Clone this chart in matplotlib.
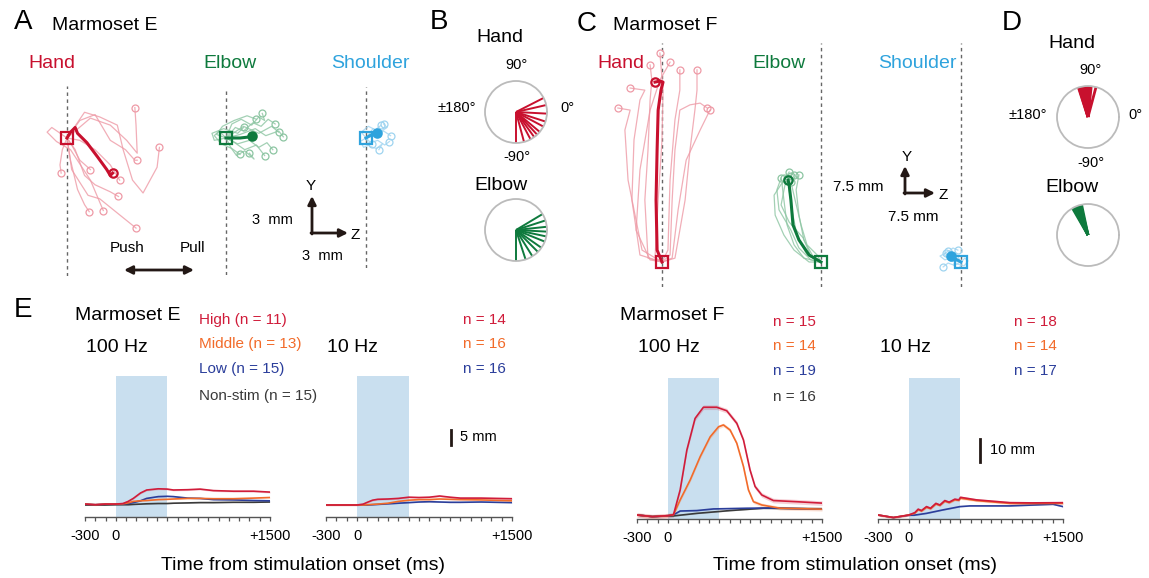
import numpy as np
import matplotlib
matplotlib.use('Agg')
import matplotlib.pyplot as plt

plt.rcParams['font.family'] = ['Liberation Sans', 'DejaVu Sans']

W, H = 1149, 578

# colours
HAND_D, HAND_L = '#C8102E', '#EE9AA6'
ELBOW_D, ELBOW_L = '#0E7A3D', '#8CC5A2'
SHOUL_D, SHOUL_L = '#2FA3DD', '#9FD4F0'
C_HIGH, C_MID, C_LOW, C_NON = '#D01C3A', '#F26B2A', '#2B3E9B', '#3A3A3A'
SPAN = '#C9DFEF'
INK = '#231815'

# ---------------- trajectories (mm, start = 0,0) ----------------
# Marmoset E
handE_mean_z = [0, 0.3, 0.7, 0.9, 1.7, 2.6, 3.4, 3.7, 3.9]
handE_mean_y = [0, 0.5, 0.9, 0.4, -0.4, -1.6, -2.7, -3.2, -3.0]
handE_z = [[0, 1.1, 2.4, 3.7, 5.0, 5.8, 6.0],
           [0, 1.5, 2.8, 4.3, 4.8, 5.6, 6.5, 7.7, 7.9],
           [0, 2.0, 3.7, 5.1, 6.0, 5.9, 5.8],
           [0, -0.4, -0.6, -0.5],
           [0, 0.4, 1.1, 2.0],
           [0, 1.1, 2.4, 3.7, 4.5],
           [0, 0.7, 1.5, 2.4, 3.7, 4.4],
           [0, 0.3, 0.9, 1.5, 1.9],
           [0, 0.4, 1.8, 2.8, 5.9],
           [0, -1.3, -1.7, -0.9, 0.3, 2.0, 3.1]]
handE_y = [[0, 1.5, 2.0, -0.2, -1.0, -1.9, -1.9],
           [0, 2.2, 1.8, 1.1, -1.0, -3.6, -4.7, -2.5, -0.8],
           [0, 1.7, 1.1, -0.2, -1.3, 1.1, 2.6],
           [0, -1.0, -2.3, -3.0],
           [0, -0.6, -1.9, -2.7],
           [0, -0.2, -1.0, -2.3, -3.6],
           [0, -1.0, -3.2, -4.0, -4.6, -5.0],
           [0, -1.9, -4.4, -5.7, -6.3],
           [0, -2.7, -4.9, -5.2, -7.7],
           [0, 0.9, 0.5, -0.3, -1.0, -3.6, -6.2]]

elbowE_mean_z = [0, 1.2, 2.1, 2.2]
elbowE_mean_y = [0, 0, 0.1, 0.2]
elbowE_z = [[0, 0.8, 1.5, 2.3, 3.0, 3.6, 4.2],
            [0, -0.6, -1.0, -0.4, 0.5, 1.2],
            [0, 1.0, 2.0, 2.8, 3.5, 4.0],
            [0, 0.5, 1.3, 2.2, 2.8, 3.3, 3.1],
            [0, 0.4, 0.9, 1.6, 2.4, 2.0],
            [0, 1.2, 2.5, 3.4, 4.5, 4.9],
            [0, -0.8, -0.3, 0.7, 1.8, 2.6],
            [0, 0.6, 1.6, 2.6, 3.3],
            [0, 1.5, 2.8, 3.9, 4.5],
            [0, -1.0, -1.2, -0.2, 1.0, 1.5]]
elbowE_y = [[0, 0.9, 0.6, 1.3, 1.0, 1.6, 1.2],
            [0, 0.6, 0.2, -0.5, -0.9, -1.4],
            [0, -0.5, -0.2, -0.8, -0.4, -1.0],
            [0, 1.2, 1.6, 1.1, 1.8, 1.5, 2.1],
            [0, -0.8, -1.5, -1.1, -1.8, -1.3],
            [0, 0.3, 0.8, 0.2, 0.6, 0.1],
            [0, 0.3, 1.0, 1.5, 1.9, 1.6],
            [0, -0.3, -1.0, -0.6, -1.5],
            [0, 1.0, 0.4, 1.0, 0.5],
            [0, -0.2, 0.4, 0.8, 0.4, 0.9]]

shoulE_mean_z = [0, 0.5, 0.9]
shoulE_mean_y = [0, 0.3, 0.4]
shoulE_z = [[0, 0.6, 1.2, 1.8, 1.5],
            [0, 0.4, 1.0, 1.6, 2.0],
            [0, -0.4, 0.2, 0.8, 1.3],
            [0, 0.3, 0.9, 1.4, 1.1],
            [0, 0.8, 1.5, 2.1],
            [0, -0.5, -0.2, 0.5]]
shoulE_y = [[0, 0.8, 0.5, 0.9, 1.2],
            [0, -0.4, -0.2, -0.6, -0.3],
            [0, 0.5, 1.0, 0.7, 1.1],
            [0, -0.7, -0.9, -0.5, -1.0],
            [0, 0.2, 0.6, 0.2],
            [0, -0.3, -0.8, -0.5]]

# Marmoset F
handF_mean_z = [0, -1.4, -1.7, -1.4, -1.1, -0.3, 0.3, -0.6, -2.0]
handF_mean_y = [0, 3.4, 17.7, 32.0, 43.4, 49.1, 51.4, 51.7, 51.4]
handF_z = [[0, -6.3, -8.6, -8.0, -6.3, -4.9, -9.1],
           [0, -4.0, -4.9, -4.0, -3.4, -2.9, -3.4],
           [0, -2.0, -1.1, 0, 0.3, -0.6],
           [0, -5.7, -9.7, -10.6, -9.1, -12.6],
           [0, 2.3, 2.9, 3.7, 5.1, 8.0, 10.9, 12.9],
           [0, 1.7, 2.3, 3.7, 5.1, 5.1],
           [0, 3.7, 6.6, 8.0, 9.4, 10.0, 10.0],
           [0, -3.4, -7.4, -6.3, -3.4, -0.6, 2.3],
           [0, 2.9, 4.6, 6.9, 10.9, 13.7]]
handF_y = [[0, 2.0, 17.7, 34.9, 46.3, 49.1, 49.7],
           [0, 1.1, 17.7, 32.0, 46.3, 52.0, 56.3],
           [0, 1.1, 17.7, 34.9, 49.1, 59.7],
           [0, 3.4, 23.4, 37.7, 43.4, 44.0],
           [0, 2.0, 17.7, 32.0, 43.4, 44.9, 45.4, 44.0],
           [0, 3.4, 23.4, 40.6, 49.1, 54.9],
           [0, 1.1, 17.7, 32.0, 43.4, 49.1, 54.9],
           [0, 0.6, 9.1, 26.3, 43.4, 52.0, 57.1],
           [0, 1.1, 14.9, 29.1, 37.7, 43.4]]

elbowF_mean_z = [0, -3.4, -6.3, -8.0, -8.6, -9.1, -9.4]
elbowF_mean_y = [0, 2.0, 6.3, 10.6, 17.7, 22.0, 23.4]
elbowF_z = [[0, -4.9, -7.7, -9.7, -10.6, -11.1, -10.6],
            [0, -4.0, -6.9, -8.3, -9.1, -7.7],
            [0, -2.9, -6.3, -8.6, -12.0, -12.6, -11.4],
            [0, -2.0, -4.9, -6.3, -7.1, -6.3],
            [0, -3.4, -7.7, -10.6, -13.1, -13.4, -9.1],
            [0, -1.1, -4.0, -5.7, -7.4, -8.6],
            [0, -2.9, -5.1, -9.1, -11.4, -10.3, -8.6]]
elbowF_y = [[0, 1.1, 4.9, 10.6, 17.7, 22.0, 24.0],
            [0, 2.0, 7.7, 14.9, 20.6, 24.9],
            [0, 0.6, 4.0, 9.1, 14.9, 20.6, 24.0],
            [0, 1.1, 6.3, 13.4, 20.6, 24.9],
            [0, 0, 3.4, 7.7, 13.4, 19.1, 25.7],
            [0, 2.0, 4.9, 10.6, 17.7, 22.9],
            [0, 1.7, 6.9, 11.4, 16.3, 22.0, 24.6]]

shoulF_mean_z = [0, -2.0, -2.9]
shoulF_mean_y = [0, 1.1, 1.7]
shoulF_z = [[0, -2.6, -4.6, -6.0, -4.3],
            [0, -1.4, -3.4, -2.3, -0.9],
            [0, -2.0, -3.7, -5.1],
            [0, 1.1, 2.0, 0.9, -1.1],
            [0, -3.1, -4.9, -3.7]]
shoulF_y = [[0, 1.4, 0.6, 1.7, 2.6],
            [0, 2.3, 3.1, 4.0, 3.4],
            [0, -0.9, -0.3, -1.4],
            [0, 1.1, 0.3, -1.1, -0.6],
            [0, 0.3, 2.3, 3.1]]

# ---------------- movement directions (deg) ----------------
dirE_hand = [27, 13, -3, -18, -28, -40, -47, -54, -62, -75, -90]
dirE_elbow = [31, 18, 6, -3, -12, -22, -35, -45, -58, -72, -90]
dirF_hand = [75, 84, 86, 88, 89, 91, 93, 95, 97, 99, 101, 103, 105, 107, 108]
dirF_elbow = [102, 104, 106, 108, 110, 112, 114, 116, 118, 120]

# ---------------- displacement time courses (mm) ----------------
tE100 = [-300, -200, -100, 0, 70, 120, 170, 240, 300, 413, 500, 560, 700, 820, 950, 1144, 1339, 1500]
E100_high = [0.1, -0.1, 0.1, 0.1, 0.3, 1.0, 2.0, 3.8, 4.8, 5.2, 5.1, 4.8, 4.9, 5.1, 4.6, 4.4, 4.4, 4.1]
E100_mid = [0.1, -0.1, 0.1, 0.1, 0.2, 0.5, 1.0, 1.2, 1.3, 1.6, 1.7, 1.8, 2.0, 2.0, 1.9, 1.9, 2.1, 2.3]
E100_low = [0.1, -0.1, 0.1, 0.1, 0.1, 0.3, 0.6, 1.2, 2.0, 2.6, 2.7, 2.6, 2.1, 2.0, 1.6, 1.5, 1.3, 1.2]
E100_non = [-0.2, -0.2, -0.2, -0.1, -0.1, -0.1, 0.0, 0.1, 0.2, 0.3, 0.3, 0.4, 0.5, 0.6, 0.6, 0.7, 0.7, 0.8]

tE10 = [-300, -100, 0, 60, 100, 150, 200, 300, 400, 500, 600, 700, 800, 900, 1000, 1200, 1500]
E10_high = [0.0, 0.0, 0.0, 0.3, 0.9, 1.6, 1.9, 2.0, 2.2, 2.6, 2.5, 2.6, 3.0, 2.6, 2.3, 2.3, 2.1]
E10_mid = [0.0, 0.0, 0.0, 0.0, 0.1, 0.2, 0.3, 0.6, 1.2, 1.6, 1.8, 1.8, 2.0, 1.9, 1.8, 1.7, 1.4]
E10_low = [0.0, 0.0, 0.0, 0.0, 0.0, 0.1, 0.2, 0.4, 0.6, 0.8, 1.0, 1.1, 1.0, 0.9, 0.9, 1.0, 0.8]

tF100_high = [-300, -150, 0, 55, 120, 185, 265, 346, 476, 573, 671, 736, 800, 849, 914, 1027, 1254, 1500]
F100_high = [0.4, -0.3, 0.1, 0.5, 11.2, 28.3, 41.9, 46.7, 46.7, 45.2, 39.8, 32.6, 19.7, 12.6, 9.0, 6.6, 6.1, 5.5]
tF100_mid = [-300, -150, 0, 55, 120, 218, 315, 412, 493, 541, 606, 671, 736, 784, 833, 914, 1092, 1500]
F100_mid = [0.4, -0.3, 0.1, 0.5, 6.9, 15.5, 25.5, 34.0, 38.3, 39.1, 36.9, 31.2, 21.2, 11.2, 6.1, 4.7, 3.3, 2.9]
tF100_low = [-300, -150, 0, 55, 120, 282, 444, 768, 1000, 1500]
F100_low = [0.4, -0.3, 0.1, 0.5, 2.1, 2.3, 3.0, 3.3, 3.4, 2.9]
tF100_non = [-300, -150, 0, 55, 282, 606, 930, 1200, 1500]
F100_non = [0.4, -0.3, 0.0, 0.0, 1.1, 2.3, 3.3, 3.2, 3.1]

tF10 = [-300, -150, 0, 58, 91, 123, 172, 211, 263, 302, 350, 392, 447, 486, 503, 658, 982, 1200, 1500]
F10_high = [0.4, -0.7, 0.4, 1.4, 2.9, 2.3, 4.0, 3.3, 5.4, 4.7, 6.6, 5.9, 7.2, 6.9, 8.0, 6.9, 5.7, 5.6, 5.7]
F10_mid = [0.4, -0.7, 0.4, 1.2, 2.7, 2.1, 3.7, 3.1, 5.1, 4.5, 6.3, 5.7, 6.9, 6.7, 7.6, 6.6, 5.4, 5.3, 5.4]
tF10_low = [-300, -150, 0, 50, 172, 334, 497, 594, 982, 1403, 1500]
F10_low = [0.4, -0.7, 0.3, 0.3, 1.1, 2.6, 4.0, 4.3, 4.3, 5.0, 4.0]

sem_E = [0.3, 0.15, 0.15, 0.1]
sem_F = [1.0, 0.8, 0.3, 0.2]

nE100 = ['High (n = 11)', 'Middle (n = 13)', 'Low (n = 15)', 'Non-stim (n = 15)']
nE10 = ['n = 14', 'n = 16', 'n = 16']
nF100 = ['n = 15', 'n = 14', 'n = 19', 'n = 16']
nF10 = ['n = 18', 'n = 14', 'n = 17']

fig = plt.figure(figsize=(W / 100, H / 100), dpi=100)


def rect(x0, y0, x1, y1):
    return [x0 / W, 1 - y1 / H, (x1 - x0) / W, (y1 - y0) / H]


def ftext(x, y, s, size=14, ha='left', color='black', **kw):
    fig.text(x / W, 1 - y / H, s, fontsize=size, ha=ha, va='center', color=color, **kw)


def P(x, y):
    return (x, H - y)


def traj(box, origin, scale, zs, ys, mz, my, light, dark, filled=False):
    x0, y0, x1, y1 = box
    ox, oy = origin
    ax = fig.add_axes(rect(x0, y0, x1, y1))
    ax.set_xlim((x0 - ox) / scale, (x1 - ox) / scale)
    ax.set_ylim((oy - y1) / scale, (oy - y0) / scale)
    ax.axis('off')
    ax.axvline(0, color='#666666', lw=1, ls=(0, (2.5, 2.5)))
    for z, y in zip(zs, ys):
        ax.plot(z, y, color=light, lw=0.9, alpha=0.8)
        ax.plot(z[-1], y[-1], 'o', mfc='none', mec=light, ms=5, mew=0.9)
    ax.plot(mz, my, color=dark, lw=2.2)
    ax.plot(mz[-1], my[-1], 'o', mfc=dark if filled else 'none', mec=dark, ms=6, mew=1.6)
    ax.plot(0, 0, 's', mfc='none', mec=dark, ms=8, mew=1.6)


def dirs(center, angles, color, lw):
    cx, cy = center
    ax = fig.add_axes(rect(cx - 31, cy - 31, cx + 31, cy + 31), projection='polar')
    ax.set_ylim(0, 1)
    ax.set_xticks([])
    ax.set_yticks([])
    ax.grid(False)
    ax.spines['polar'].set_color('#BBBBBB')
    ax.spines['polar'].set_linewidth(1.3)
    for a in angles:
        ax.plot([np.deg2rad(a)] * 2, [0, 1], color=color, lw=lw, solid_capstyle='butt')


def course(box, ylim, series, sems):
    ax = fig.add_axes(rect(*box))
    ax.axvspan(0, 500, color=SPAN, lw=0, zorder=0)
    for (t, v, c), s in zip(series, sems):
        v = np.array(v)
        ax.fill_between(t, v - s, v + s, color=c, alpha=0.2, lw=0)
        ax.plot(t, v, color=c, lw=1.2)
    ax.set_xlim(-300, 1500)
    ax.set_ylim(*ylim)
    for sp in ['top', 'right', 'left']:
        ax.spines[sp].set_visible(False)
    ax.spines['bottom'].set_color('#555555')
    ax.spines['bottom'].set_linewidth(1)
    ax.set_yticks([])
    ax.set_xticks([-300, 0, 1500])
    ax.set_xticklabels(['-300', '0', '+1500'])
    ax.set_xticks(np.arange(-300, 1501, 100), minor=True)
    ax.tick_params(axis='x', which='both', direction='out', length=3, width=0.9,
                   color='#555555', labelsize=10.5, pad=6)
    ax.patch.set_alpha(0)
    return ax


# ---------------- panel A ----------------
ftext(14, 22, 'A', size=20)
ftext(52, 25, 'Marmoset E', size=14)
ftext(28, 63, 'Hand', color=HAND_D)
ftext(203, 63, 'Elbow', color=ELBOW_D)
ftext(331, 63, 'Shoulder', color=SHOUL_D)
traj((20, 86, 175, 276), (67, 138), 11.7, handE_z, handE_y, handE_mean_z, handE_mean_y, HAND_L, HAND_D)
traj((185, 89, 300, 275), (226, 138), 11.7, elbowE_z, elbowE_y, elbowE_mean_z, elbowE_mean_y, ELBOW_L, ELBOW_D, True)
traj((340, 87, 410, 268), (366, 138), 11.7, shoulE_z, shoulE_y, shoulE_mean_z, shoulE_mean_y, SHOUL_L, SHOUL_D, True)
ftext(110, 248, 'Push', size=11)
ftext(180, 248, 'Pull', size=11)
fig.axes[0].annotate('', xy=P(124, 270), xytext=P(194, 270), xycoords='figure pixels', textcoords='figure pixels',
                     arrowprops=dict(arrowstyle='<|-|>', color=INK, lw=2, mutation_scale=12, shrinkA=0, shrinkB=0))
fig.axes[0].annotate('', xy=P(312, 196), xytext=P(312, 234), xycoords='figure pixels', textcoords='figure pixels',
                     arrowprops=dict(arrowstyle='-|>', color=INK, lw=2, mutation_scale=12, shrinkA=0, shrinkB=0))
fig.axes[0].annotate('', xy=P(348, 233), xytext=P(311, 233), xycoords='figure pixels', textcoords='figure pixels',
                     arrowprops=dict(arrowstyle='-|>', color=INK, lw=2, mutation_scale=12, shrinkA=0, shrinkB=0))
ftext(311, 186, 'Y', size=11, ha='center')
ftext(355, 235, 'Z', size=11, ha='center')
ftext(272, 220, '3  mm', size=10.5, ha='center')
ftext(322, 256, '3  mm', size=10.5, ha='center')

# ---------------- panel B ----------------
ftext(430, 22, 'B', size=20)
ftext(500, 38, 'Hand', ha='center')
ftext(517, 65, '90°', size=10.5, ha='center')
ftext(457, 108, '±180°', size=10.5, ha='center')
ftext(567, 108, '0°', size=10.5, ha='center')
ftext(517, 157, '-90°', size=10.5, ha='center')
ftext(501, 185, 'Elbow', ha='center')
dirs((516, 112), dirE_hand, HAND_D, 1.4)
dirs((516, 230), dirE_elbow, ELBOW_D, 1.4)

# ---------------- panel C ----------------
ftext(577, 24, 'C', size=20)
ftext(613, 25, 'Marmoset F', size=14)
ftext(597, 63, 'Hand', color=HAND_D)
ftext(752, 63, 'Elbow', color=ELBOW_D)
ftext(878, 63, 'Shoulder', color=SHOUL_D)
traj((600, 43, 725, 287), (662, 262), 3.5, handF_z, handF_y, handF_mean_z, handF_mean_y, HAND_L, HAND_D)
traj((760, 43, 840, 287), (821, 262), 3.5, elbowF_z, elbowF_y, elbowF_mean_z, elbowF_mean_y, ELBOW_L, ELBOW_D)
traj((930, 43, 980, 287), (961, 262), 3.5, shoulF_z, shoulF_y, shoulF_mean_z, shoulF_mean_y, SHOUL_L, SHOUL_D, True)
fig.axes[0].annotate('', xy=P(905, 166), xytext=P(905, 194), xycoords='figure pixels', textcoords='figure pixels',
                     arrowprops=dict(arrowstyle='-|>', color=INK, lw=2, mutation_scale=12, shrinkA=0, shrinkB=0))
fig.axes[0].annotate('', xy=P(935, 193), xytext=P(904, 193), xycoords='figure pixels', textcoords='figure pixels',
                     arrowprops=dict(arrowstyle='-|>', color=INK, lw=2, mutation_scale=12, shrinkA=0, shrinkB=0))
ftext(907, 157, 'Y', size=11, ha='center')
ftext(943, 195, 'Z', size=11, ha='center')
ftext(858, 187, '7.5 mm', size=11, ha='center')
ftext(913, 217, '7.5 mm', size=11, ha='center')

# ---------------- panel D ----------------
ftext(1002, 23, 'D', size=20)
ftext(1072, 43, 'Hand', ha='center')
ftext(1090, 70, '90°', size=10.5, ha='center')
ftext(1028, 115, '±180°', size=10.5, ha='center')
ftext(1135, 115, '0°', size=10.5, ha='center')
ftext(1091, 163, '-90°', size=10.5, ha='center')
ftext(1072, 188, 'Elbow', ha='center')
dirs((1088, 117), dirF_hand, HAND_D, 2.0)
dirs((1088, 235), dirF_elbow, ELBOW_D, 2.0)

# ---------------- panel E ----------------
ftext(14, 310, 'E', size=20)
ftext(75, 315, 'Marmoset E', size=14)
ftext(86, 347, '100 Hz', size=14)
ftext(327, 347, '10 Hz', size=14)
for lab, y, c in zip(nE100, [320, 344, 369, 396], [C_HIGH, C_MID, C_LOW, C_NON]):
    ftext(199, y, lab, size=11, color=c)
for lab, y, c in zip(nE10, [320, 344, 369], [C_HIGH, C_MID, C_LOW]):
    ftext(506, y, lab, size=11, color=c, ha='right')

course((85, 376, 270, 516.7), (-4.1, 42.8),
       [(tE100, E100_non, C_NON), (tE100, E100_low, C_LOW), (tE100, E100_mid, C_MID), (tE100, E100_high, C_HIGH)],
       sem_E[::-1])
axE10 = course((326, 376, 512, 516.7), (-3.9, 43.0),
               [(tE10, E10_low, C_LOW), (tE10, E10_mid, C_MID), (tE10, E10_high, C_HIGH)],
               sem_E[:3][::-1])
axE10.plot([905, 905], [20, 25], color=INK, lw=2, clip_on=False)
ftext(460, 437, '5 mm', size=10.5)
ftext(303, 565, 'Time from stimulation onset (ms)', size=14, ha='center')

# Marmoset F
ftext(620, 315, 'Marmoset F', size=14)
ftext(638, 348, '100 Hz', size=14)
ftext(880, 348, '10 Hz', size=14)
for lab, y, c in zip(nF100, [322, 346, 371, 397], [C_HIGH, C_MID, C_LOW, C_NON]):
    ftext(816, y, lab, size=11, color=c, ha='right')
for lab, y, c in zip(nF10, [322, 346, 371], [C_HIGH, C_MID, C_LOW]):
    ftext(1057, y, lab, size=11, color=c, ha='right')

course((637, 377.7, 822, 518.7), (-1.2, 59.4),
       [(tF100_non, F100_non, C_NON), (tF100_low, F100_low, C_LOW),
        (tF100_mid, F100_mid, C_MID), (tF100_high, F100_high, C_HIGH)],
       sem_F[::-1])
axF10 = course((878, 377.7, 1063, 518.7), (-1.2, 59.4),
               [(tF10_low, F10_low, C_LOW), (tF10, F10_mid, C_MID), (tF10, F10_high, C_HIGH)],
               [0.2, 0.5, 0.5])
axF10.plot([697, 697], [23, 33], color=INK, lw=2, clip_on=False)
ftext(990, 450, '10 mm', size=10.5)
ftext(855, 565, 'Time from stimulation onset (ms)', size=14, ha='center')

fig.savefig('out.png', dpi=100, facecolor='white')
